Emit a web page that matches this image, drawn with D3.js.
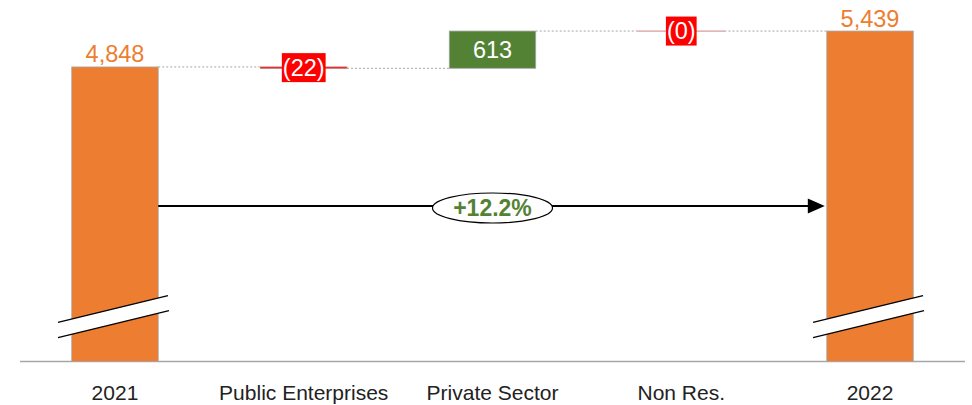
<!DOCTYPE html>
<html>
<head>
<meta charset="utf-8">
<script src="https://cdn.jsdelivr.net/npm/d3@7"></script>
<style>
  html, body { margin: 0; padding: 0; background: #fff; }
  svg { display: block; font-family: "Liberation Sans", Arial, sans-serif; }
</style>
</head>
<body>
<svg id="chart" width="972" height="405"></svg>
<script>
// Waterfall: 2021 total, three changes, 2022 total
const categories = ["2021", "Public Enterprises", "Private Sector", "Non Res.", "2022"];
const values = [4848, -22, 613, -0.4, 5439];
const kinds = ["total", "delta", "delta", "delta", "total"];

const colors = { total: "#ED7D31", up: "#548235", down: "#FF0000" };

const svg = d3.select("#chart");
const baseY = 361.5;

const x = d3.scaleBand()
  .domain(categories)
  .range([20.6, 964.4])
  .paddingInner(0.542)
  .paddingOuter(0.271);

const y = d3.scaleLinear().domain([0, 5950]).range([baseY, 0]);

// running levels
let level = 0;
const bars = categories.map((c, i) => {
  const v = values[i];
  let y0, y1;
  if (kinds[i] === "total") { y0 = 0; y1 = v; level = v; }
  else { y0 = level; y1 = level + v; level = y1; }
  return { c, v, kind: kinds[i], lo: Math.min(y0, y1), hi: Math.max(y0, y1), end: y1 };
});

const fmtTotal = d3.format(",.0f");
const fmtDelta = v => v < 0 ? "(" + d3.format(",.0f")(Math.abs(v)) + ")" : d3.format(",.0f")(v);

// baseline
svg.append("line")
  .attr("x1", 20).attr("x2", 965)
  .attr("y1", baseY).attr("y2", baseY)
  .attr("stroke", "#A6A6A6").attr("stroke-width", 1.5);

// connectors
for (let i = 0; i < bars.length - 1; i++) {
  const yy = y(bars[i].end);
  svg.append("line")
    .attr("x1", x(bars[i].c) + x.bandwidth())
    .attr("x2", x(bars[i + 1].c))
    .attr("y1", yy).attr("y2", yy)
    .attr("stroke", "#A6A6A6").attr("stroke-width", 1)
    .attr("stroke-dasharray", "2,2");
}

// bars
svg.selectAll("rect.bar").data(bars).enter().append("rect")
  .attr("class", "bar")
  .attr("x", d => x(d.c))
  .attr("width", x.bandwidth())
  .attr("y", d => y(d.hi))
  .attr("height", d => Math.max(0, y(d.lo) - y(d.hi)))
  .attr("fill", d => d.kind === "total" ? colors.total : (d.v < 0 ? colors.down : colors.up))
  .attr("stroke", d => (d.kind === "delta" && d.v < 0) ? "#C46A6A" : "#A6A6A6")
  .attr("stroke-width", 0.8);

// axis break marks on total bars
bars.filter(d => d.kind === "total").forEach(d => {
  const cx = x(d.c) + x.bandwidth() / 2;
  const g = svg.append("g");
  g.append("path")
    .attr("d", `M${cx - 57},322.3 L${cx + 53},295.7 L${cx + 54},310.7 L${cx - 57},337.7 Z`)
    .attr("fill", "#fff");
  g.append("line")
    .attr("x1", cx - 57).attr("y1", 322.3).attr("x2", cx + 53).attr("y2", 295.7)
    .attr("stroke", "#000").attr("stroke-width", 1.3);
  g.append("line")
    .attr("x1", cx - 57).attr("y1", 337.7).attr("x2", cx + 54).attr("y2", 310.7)
    .attr("stroke", "#000").attr("stroke-width", 1.3);
});

// value labels
const fs = 23.5;
bars.forEach(d => {
  const cx = x(d.c) + x.bandwidth() / 2;
  if (d.kind === "total") {
    svg.append("text")
      .attr("x", cx).attr("y", y(d.hi) - 4.5)
      .attr("text-anchor", "middle")
      .attr("font-size", fs)
      .attr("fill", colors.total)
      .text(fmtTotal(d.v));
  } else if (d.v >= 0) {
    const mid = (y(d.hi) + y(d.lo)) / 2;
    svg.append("text")
      .attr("x", cx).attr("y", mid + fs * 0.358)
      .attr("text-anchor", "middle")
      .attr("font-size", fs)
      .attr("fill", "#fff")
      .text(fmtDelta(d.v));
  } else {
    const mid = (y(d.hi) + y(d.lo)) / 2;
    const t = svg.append("text")
      .attr("x", cx).attr("y", mid + fs * 0.358)
      .attr("text-anchor", "middle")
      .attr("font-size", fs)
      .attr("fill", "#fff")
      .text(fmtDelta(d.v));
    const w = t.node().getComputedTextLength() + 2;
    svg.insert("rect", () => t.node())
      .attr("x", cx - w / 2).attr("width", w)
      .attr("y", mid - 14.5).attr("height", 29)
      .attr("fill", colors.down);
  }
});

// growth arrow between totals
const first = bars[0], last = bars[bars.length - 1];
const ax1 = x(first.c) + x.bandwidth();
const ax2 = x(last.c) - 2;
const ay = 206;
svg.append("line")
  .attr("x1", ax1).attr("x2", ax2 - 14)
  .attr("y1", ay).attr("y2", ay)
  .attr("stroke", "#000").attr("stroke-width", 2.2);
svg.append("path")
  .attr("d", `M${ax2},${ay} L${ax2 - 17},${ay - 7.5} L${ax2 - 17},${ay + 7.5} Z`)
  .attr("fill", "#000");

const growth = last.v / first.v - 1;
const ex = (ax1 + x(last.c)) / 2;
svg.append("ellipse")
  .attr("cx", ex).attr("cy", 208)
  .attr("rx", 60).attr("ry", 15)
  .attr("fill", "#fff").attr("stroke", "#000").attr("stroke-width", 1.2);
svg.append("text")
  .attr("x", ex).attr("y", 208 + 23 * 0.358)
  .attr("text-anchor", "middle")
  .attr("font-size", 23).attr("font-weight", "bold")
  .attr("fill", colors.up)
  .text(d3.format("+.1%")(growth));

// category labels
svg.selectAll("text.cat").data(categories).enter().append("text")
  .attr("class", "cat")
  .attr("x", d => x(d) + x.bandwidth() / 2)
  .attr("y", 400)
  .attr("text-anchor", "middle")
  .attr("font-size", 21)
  .attr("fill", "#222")
  .text(d => d);
</script>
</body>
</html>
